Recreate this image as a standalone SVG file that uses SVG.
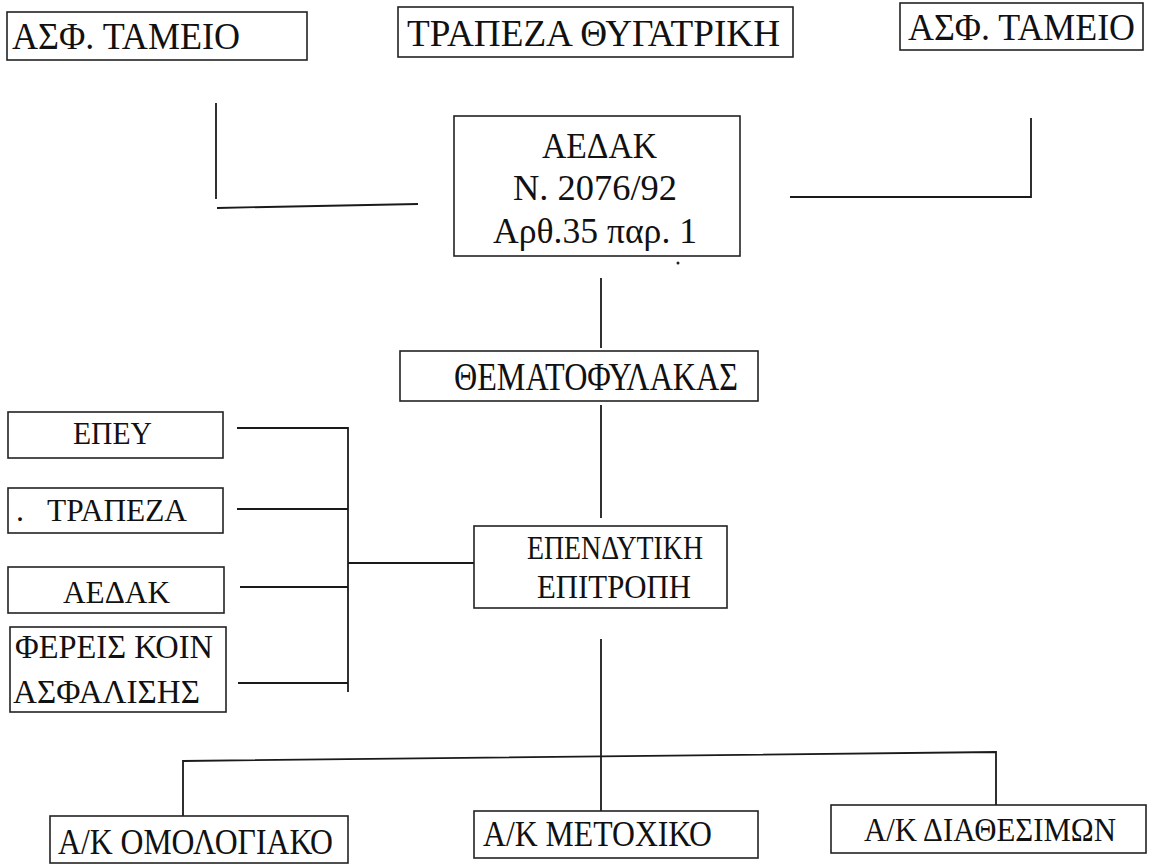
<svg xmlns="http://www.w3.org/2000/svg" width="1149" height="865" viewBox="0 0 1149 865">
<style>
.box{fill:#fff;stroke:#222;stroke-width:1.6}
.c{fill:none;stroke:#1a1a1a;stroke-width:1.8}
text{font-family:'Liberation Serif','DejaVu Serif',serif;fill:#111}
</style>
<rect width="1149" height="865" fill="#fff"/>
<g id="connectors">
<path class="c" d="M216 103 V199"/>
<path class="c" d="M217 208 L418 204"/>
<path class="c" d="M790 197 H1031 V118"/>
<path class="c" d="M601 278 V348"/>
<path class="c" d="M601 405 V518"/>
<path class="c" d="M237 428 H348"/>
<path class="c" d="M237 509 H348"/>
<path class="c" d="M240 587 H348"/>
<path class="c" d="M238 683 H348"/>
<path class="c" d="M348 427 V692"/>
<path class="c" d="M348 563 H474"/>
<path class="c" d="M601 639 V811"/>
<path class="c" d="M183 816 V761 L996 752 V805"/>
<circle cx="678" cy="263" r="1.5" fill="#222"/>
</g>
<g id="n-asf1"><rect class="box" x="7" y="12" width="300" height="48"/><text x="12" y="49" font-size="38" textLength="228" lengthAdjust="spacingAndGlyphs">ΑΣΦ. ΤΑΜΕΙΟ</text></g>
<g id="n-trapeza-thyg"><rect class="box" x="398" y="7" width="395" height="50"/><text x="407" y="46" font-size="38" textLength="373" lengthAdjust="spacingAndGlyphs">ΤΡΑΠΕΖΑ ΘΥΓΑΤΡΙΚΗ</text></g>
<g id="n-asf2"><rect class="box" x="900" y="3" width="243" height="47"/><text x="908" y="40" font-size="38" textLength="227" lengthAdjust="spacingAndGlyphs">ΑΣΦ. ΤΑΜΕΙΟ</text></g>
<g id="n-aedak"><rect class="box" x="454" y="116" width="286" height="140"/>
<text x="542" y="158" font-size="36" textLength="115" lengthAdjust="spacingAndGlyphs">ΑΕΔΑΚ</text>
<text x="513" y="200" font-size="36" textLength="164" lengthAdjust="spacingAndGlyphs">Ν. 2076/92</text>
<text x="493" y="243" font-size="36" textLength="204" lengthAdjust="spacingAndGlyphs">Αρθ.35 παρ. 1</text></g>
<g id="n-themat"><rect class="box" x="400" y="351" width="358" height="50"/><text x="454" y="390" font-size="40" textLength="284" lengthAdjust="spacingAndGlyphs">ΘΕΜΑΤΟΦΥΛΑΚΑΣ</text></g>
<g id="n-ependytiki"><rect class="box" x="474" y="526" width="253" height="82"/>
<text x="527" y="559" font-size="33" textLength="176" lengthAdjust="spacingAndGlyphs">ΕΠΕΝΔΥΤΙΚΗ</text>
<text x="537" y="598" font-size="33" textLength="154" lengthAdjust="spacingAndGlyphs">ΕΠΙΤΡΟΠΗ</text></g>
<g id="n-epey"><rect class="box" x="8" y="412" width="215" height="46"/><text x="73" y="444" font-size="32" textLength="79" lengthAdjust="spacingAndGlyphs">ΕΠΕΥ</text></g>
<g id="n-trapeza"><rect class="box" x="8" y="488" width="215" height="45"/><text x="16" y="521" font-size="32">.</text><text x="47" y="521" font-size="32" textLength="140" lengthAdjust="spacingAndGlyphs">ΤΡΑΠΕΖΑ</text></g>
<g id="n-aedak2"><rect class="box" x="8" y="567" width="216" height="46"/><text x="63" y="603" font-size="32" textLength="107" lengthAdjust="spacingAndGlyphs">ΑΕΔΑΚ</text></g>
<g id="n-fereis"><rect class="box" x="10" y="627" width="216" height="85"/>
<text x="15" y="658" font-size="33" textLength="198" lengthAdjust="spacingAndGlyphs">ΦΕΡΕΙΣ ΚΟΙΝ</text>
<text x="13" y="703" font-size="33" textLength="187" lengthAdjust="spacingAndGlyphs">ΑΣΦΑΛΙΣΗΣ</text></g>
<g id="n-omologiako"><rect class="box" x="50" y="816" width="298" height="47"/><text x="58" y="854" font-size="35" textLength="275" lengthAdjust="spacingAndGlyphs">Α/Κ ΟΜΟΛΟΓΙΑΚΟ</text></g>
<g id="n-metoxiko"><rect class="box" x="474" y="811" width="284" height="47"/><text x="483" y="846" font-size="35" textLength="229" lengthAdjust="spacingAndGlyphs">Α/Κ ΜΕΤΟΧΙΚΟ</text></g>
<g id="n-diathesimon"><rect class="box" x="831" y="805" width="315" height="48"/><text x="864" y="841" font-size="33" textLength="252" lengthAdjust="spacingAndGlyphs">Α/Κ ΔΙΑΘΕΣΙΜΩΝ</text></g>
</svg>
